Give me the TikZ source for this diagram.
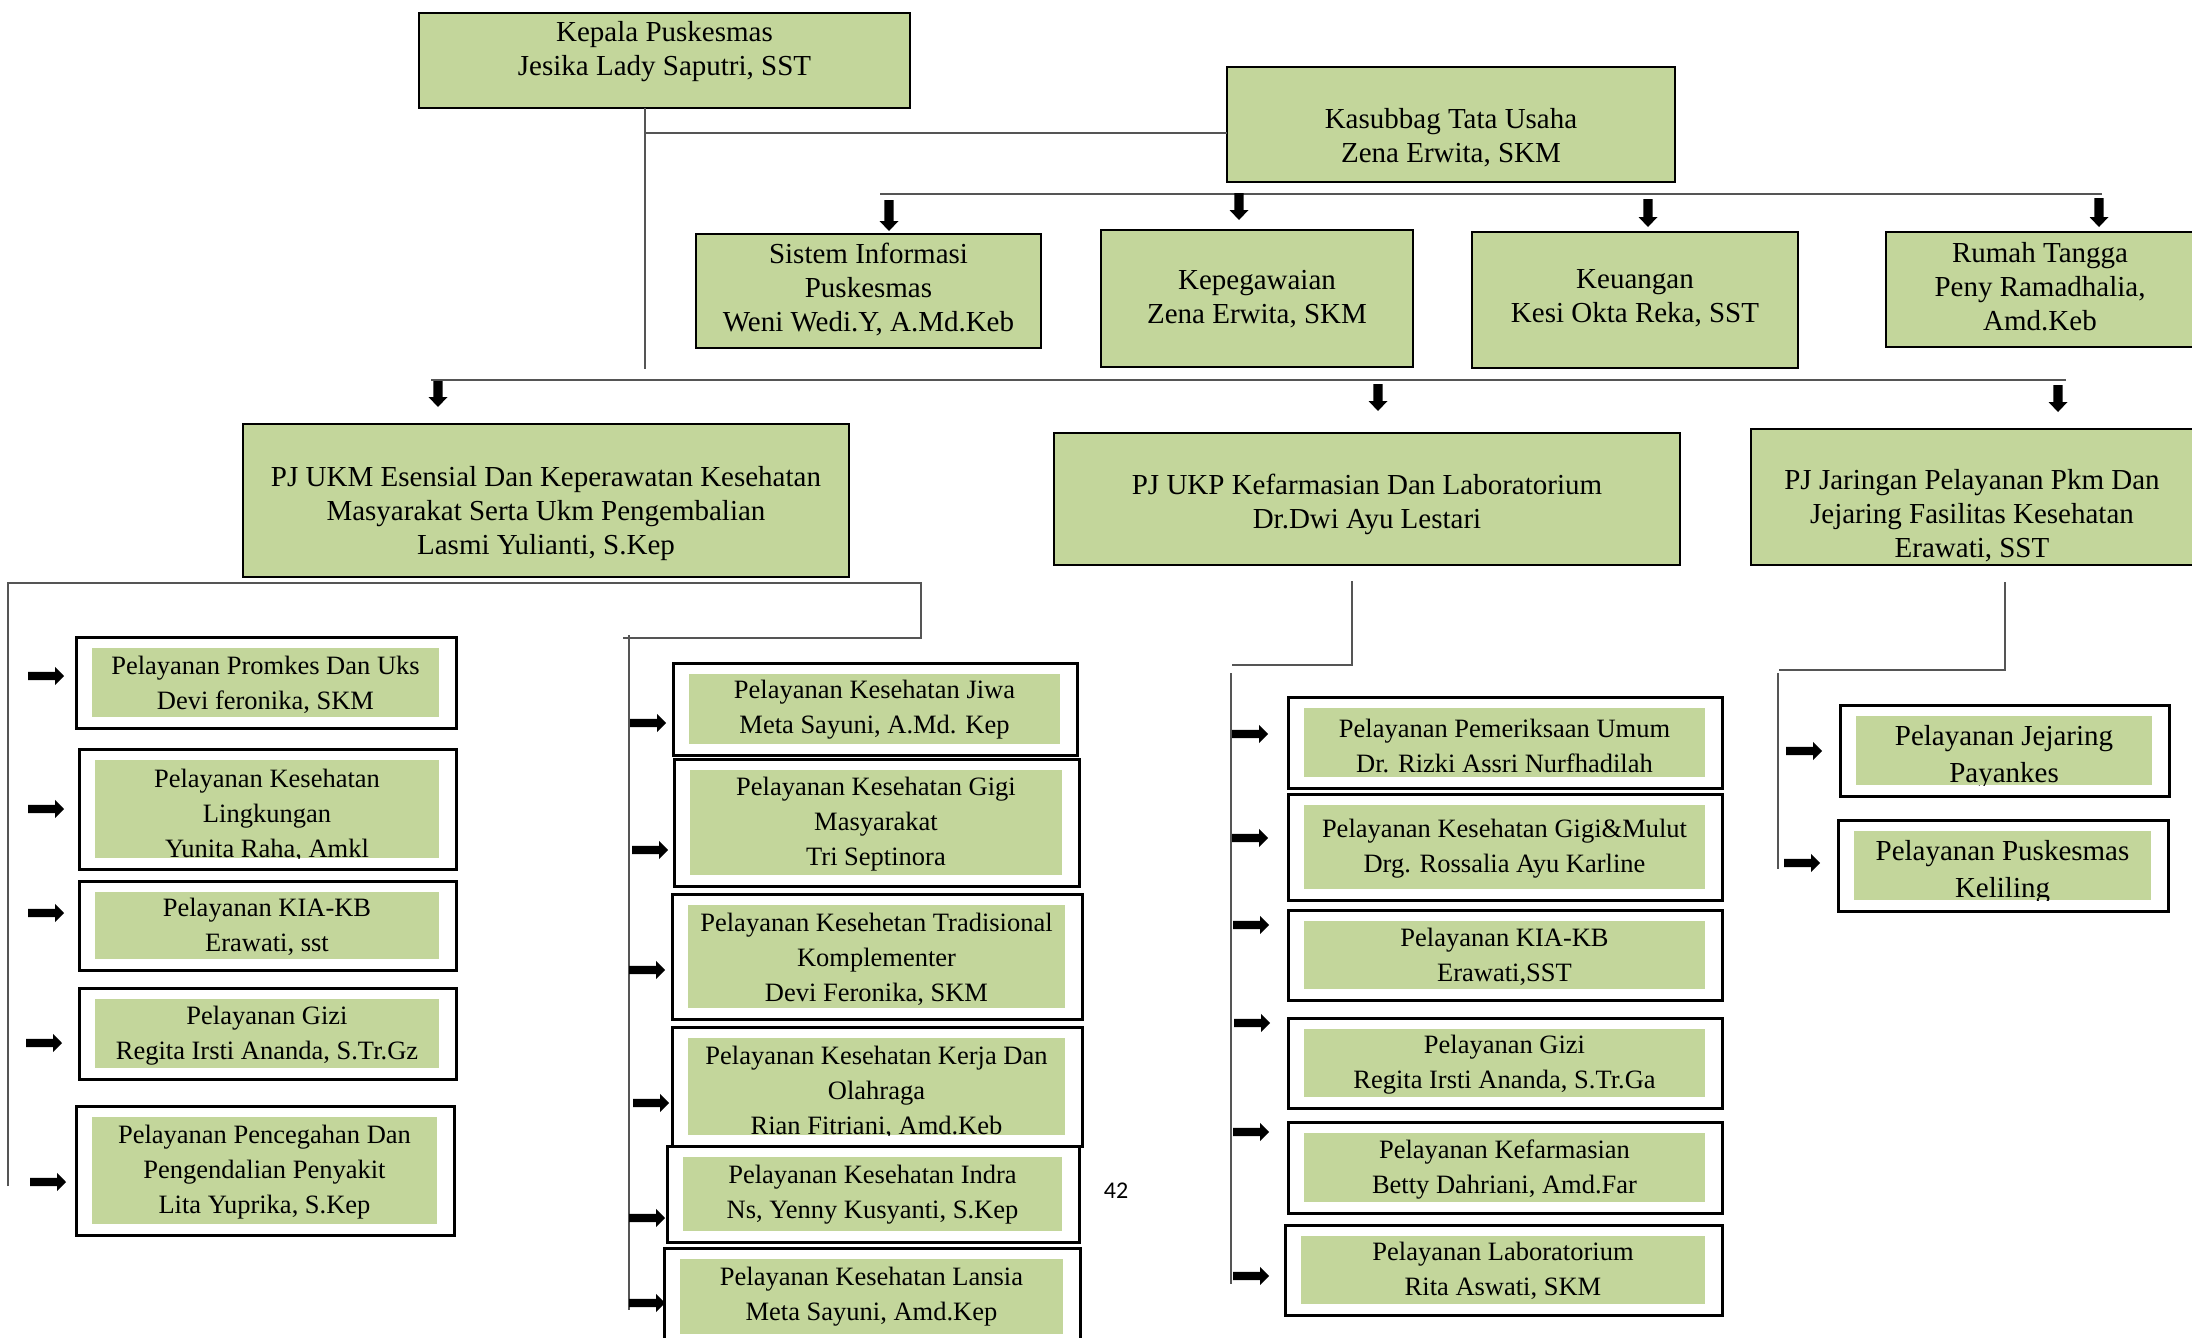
\documentclass[tikz,border=0pt]{standalone}
\usepackage{fontspec}
\setmainfont{Liberation Serif}
\newfontfamily\numfont{Carlito}
\definecolor{boxgreen}{RGB}{195,214,155}
\definecolor{linegray}{RGB}{85,85,85}
\tikzset{
  topbox/.style={draw=black, line width=2.2pt, fill=boxgreen, inner sep=0pt, outer sep=0pt},
  obox/.style={draw=black, line width=3pt, fill=white, inner sep=0pt, outer sep=0pt},
  ibox/.style={fill=boxgreen, inner sep=0pt, outer sep=0pt},
  ttext/.style={align=center, inner sep=0pt, font=\fontsize{29}{34}\selectfont},
  ctext/.style={align=center, inner sep=0pt, font=\fontsize{26.5}{35}\selectfont},
  jtext/.style={align=center, inner sep=0pt, font=\fontsize{29}{37}\selectfont},
  conn/.style={draw=linegray, line width=1.7pt},
  blockarrow/.style={fill=black},
}
% style, name, x1, y1, x2, y2
\newcommand\rectnode[6]{%
  \node[#1, minimum width={(#5)-(#3)}, minimum height={(#6)-(#4)}] (#2)
    at ({((#3)+(#5))/2},{((#4)+(#6))/2}) {};}
% name, ox1, oy1, ox2, oy2, text y, text style, text
\newcommand\childbox[8]{%
  \rectnode{obox}{#1}{#2}{#3}{#4}{#5}
  \rectnode{ibox}{#1i}{#2+16}{#3+11}{#4-17}{#5-11}
  \begin{scope}
    \clip ({#2+16},{#3+11}) rectangle ({#4-17},{#5-11});
    \node[#7] (#1t) at ({(#2+#4-1)/2},#6) {#8};
  \end{scope}}
% right block arrow: x start, y centre
\newcommand\rblockarrow[2]{%
  \fill[blockarrow] (#1,{#2-4.2}) -- ({#1+27},{#2-4.2}) -- ({#1+27},{#2-9.2})
    -- ({#1+36},#2) -- ({#1+27},{#2+9.2}) -- ({#1+27},{#2+4.2}) -- (#1,{#2+4.2}) -- cycle;}
% down block arrow: x, y top, y tip
\newcommand\dblockarrow[3]{%
  \fill[blockarrow] ({#1-4.7},#2) -- ({#1+4.7},#2) -- ({#1+4.7},{#3-10})
    -- ({#1+9.5},{#3-10}) -- (#1,#3) -- ({#1-9.5},{#3-10}) -- ({#1-4.7},{#3-10}) -- cycle;}

\begin{document}
\begin{tikzpicture}[x=1pt,y=-1pt]
\path[use as bounding box] (0,0) rectangle (2192,1338);
\clip (0,0) rectangle (2192,1338);

% ---------- top level ----------
\rectnode{topbox}{kepala}{419}{13}{910}{108}
\node[ttext] (kepalaT) at (664.5,52) {Kepala Puskesmas\\Jesika Lady Saputri, SST};
\rectnode{topbox}{kasubbag}{1227}{67}{1675}{182}
\node[ttext] (kasubbagT) at (1451,138) {Kasubbag Tata Usaha\\Zena Erwita, SKM};

\coordinate (kv) at (645,369);
\coordinate (kh) at (645,133);
\draw[conn] (kepala.south -| kv) -- (kv);
\draw[conn] (kh) -- (kh -| kasubbag.west);

\coordinate (tu1) at (880,194);
\coordinate (tu2) at (2102,194);
\draw[conn] (tu1) -- (tu2);
\dblockarrow{889}{200}{231}
\dblockarrow{1239}{193}{220}
\dblockarrow{1648}{199}{227}
\dblockarrow{2099}{198}{227}

\rectnode{topbox}{sip}{696}{234}{1041}{348}
\node[ttext] (sipT) at (868.5,290) {Sistem Informasi\\Puskesmas\\Weni Wedi.Y, A.Md.Keb};
\rectnode{topbox}{kepeg}{1101}{230}{1413}{367}
\node[ttext] (kepegT) at (1257,299) {Kepegawaian\\Zena Erwita, SKM};
\rectnode{topbox}{keu}{1472}{232}{1798}{368}
\node[ttext] (keuT) at (1635,298) {Keuangan\\Kesi Okta Reka, SST};
\rectnode{topbox}{rt}{1886}{232}{2200}{347}
\node[ttext] (rtT) at (2040,287) {Rumah Tangga\\Peny Ramadhalia,\\Amd.Keb};

% ---------- PJ level ----------
\coordinate (pj1) at (431,380);
\coordinate (pj2) at (2066,380);
\draw[conn] (pj1) -- (pj2);
\dblockarrow{438}{381}{407}
\dblockarrow{1378}{384}{411}
\dblockarrow{2058}{385}{412}

\rectnode{topbox}{ukm}{243}{424}{849}{577}
\node[ttext] (ukmT) at (546,514) {PJ UKM Esensial Dan Keperawatan Kesehatan\\Masyarakat Serta Ukm Pengembalian\\Lasmi Yulianti, S.Kep};
\rectnode{topbox}{ukp}{1054}{433}{1680}{565}
\node[ttext] (ukpT) at (1367,504) {PJ UKP Kefarmasian Dan Laboratorium\\Dr.Dwi Ayu Lestari};
\rectnode{topbox}{jar}{1751}{429}{2200}{565}
\node[ttext] (jarT) at (1972,516) {PJ Jaringan Pelayanan Pkm Dan\\Jejaring Fasilitas Kesehatan\\Erawati, SST};

% ---------- UKM brackets ----------
\coordinate (ukmL) at (8,1186);
\coordinate (ukmA) at (8,583);
\coordinate (ukmB) at (921,583);
\coordinate (ukmC) at (921,638);
\coordinate (ukmD) at (623,638);
\draw[conn] (ukmL) -- (ukmA) -- (ukmB) -- (ukmC) -- (ukmD);
\coordinate (midT) at (629,635);
\coordinate (midB) at (629,1310);
\draw[conn] (midT) -- (midB);

% left column
\childbox{promkes}{76}{637}{456}{728}{685}{ctext}{Pelayanan Promkes Dan Uks\\Devi feronika, SKM}
\childbox{kesling}{79}{749}{456}{869}{815}{ctext}{Pelayanan Kesehatan\\Lingkungan\\Yunita Raha, Amkl}
\childbox{kiakbA}{79}{881}{456}{970}{927}{ctext}{Pelayanan KIA-KB\\Erawati, sst}
\childbox{giziA}{79}{988}{456}{1079}{1036}{ctext}{Pelayanan Gizi\\Regita Irsti Ananda, S.Tr.Gz}
\childbox{p2p}{76}{1106}{454}{1235}{1172}{ctext}{Pelayanan Pencegahan Dan\\Pengendalian Penyakit\\Lita Yuprika, S.Kep}
\rblockarrow{28}{676}
\rblockarrow{28}{809}
\rblockarrow{28}{913}
\rblockarrow{26}{1043}
\rblockarrow{30}{1182}

% middle column
\childbox{jiwa}{673}{663}{1077}{755}{710}{ctext}{Pelayanan Kesehatan Jiwa\\Meta Sayuni, A.Md. Kep}
\childbox{gigimas}{674}{759}{1079}{886}{824}{ctext}{Pelayanan Kesehatan Gigi\\Masyarakat\\Tri Septinora}
\childbox{tradisional}{672}{894}{1082}{1019}{959}{ctext}{Pelayanan Kesehetan Tradisional\\Komplementer\\Devi Feronika, SKM}
\childbox{kerja}{672}{1027}{1082}{1146}{1092}{ctext}{Pelayanan Kesehatan Kerja Dan\\Olahraga\\Rian Fitriani, Amd.Keb}
\childbox{indra}{667}{1146}{1079}{1242}{1195}{ctext}{Pelayanan Kesehatan Indra\\Ns, Yenny Kusyanti, S.Kep}
\childbox{lansia}{664}{1248}{1080}{1345}{1297}{ctext}{Pelayanan Kesehatan Lansia\\Meta Sayuni, Amd.Kep}
\rblockarrow{630}{723}
\rblockarrow{632}{850}
\rblockarrow{629}{970}
\rblockarrow{633}{1103}
\rblockarrow{629}{1218}
\rblockarrow{629}{1303}

% ---------- UKP bracket ----------
\coordinate (ukpA) at (1352,581);
\coordinate (ukpB) at (1352,665);
\coordinate (ukpC) at (1232,665);
\draw[conn] (ukpA) -- (ukpB) -- (ukpC);
\coordinate (ukpT1) at (1231,673);
\coordinate (ukpT2) at (1231,1284);
\draw[conn] (ukpT1) -- (ukpT2);

\childbox{umum}{1288}{697}{1722}{788}{746}{ctext}{Pelayanan Pemeriksaan Umum\\Dr. Rizki Assri Nurfhadilah}
\childbox{gigimulut}{1288}{794}{1722}{900}{849}{ctext}{Pelayanan Kesehatan Gigi\&Mulut\\Drg. Rossalia Ayu Karline}
\childbox{kiakbB}{1288}{910}{1722}{1000}{957}{ctext}{Pelayanan KIA-KB\\Erawati,SST}
\childbox{giziB}{1288}{1018}{1722}{1108}{1065}{ctext}{Pelayanan Gizi\\Regita Irsti Ananda, S.Tr.Ga}
\childbox{farmasi}{1288}{1122}{1722}{1213}{1170}{ctext}{Pelayanan Kefarmasian\\Betty Dahriani, Amd.Far}
\childbox{lab}{1285}{1225}{1722}{1315}{1271}{ctext}{Pelayanan Laboratorium\\Rita Aswati, SKM}
\rblockarrow{1232}{734}
\rblockarrow{1232}{838}
\rblockarrow{1233}{925}
\rblockarrow{1234}{1023}
\rblockarrow{1233}{1132}
\rblockarrow{1233}{1276}

% ---------- Jaringan bracket ----------
\coordinate (jarA) at (2005,582);
\coordinate (jarB) at (2005,670);
\coordinate (jarC) at (1779,670);
\draw[conn] (jarA) -- (jarB) -- (jarC);
\coordinate (jarT1) at (1778,673);
\coordinate (jarT2) at (1778,869);
\draw[conn] (jarT1) -- (jarT2);

\childbox{jejaring}{1840}{705}{2169}{796}{757}{jtext}{Pelayanan Jejaring\\Payankes}
\childbox{keliling}{1838}{820}{2168}{911}{872}{jtext}{Pelayanan Puskesmas\\Keliling}
\rblockarrow{1786}{751}
\rblockarrow{1784}{863}

% page number
\node[font=\numfont\fontsize{24}{28}\selectfont, inner sep=0pt] (pagenum) at (1116,1191) {42};
\end{tikzpicture}
\end{document}
